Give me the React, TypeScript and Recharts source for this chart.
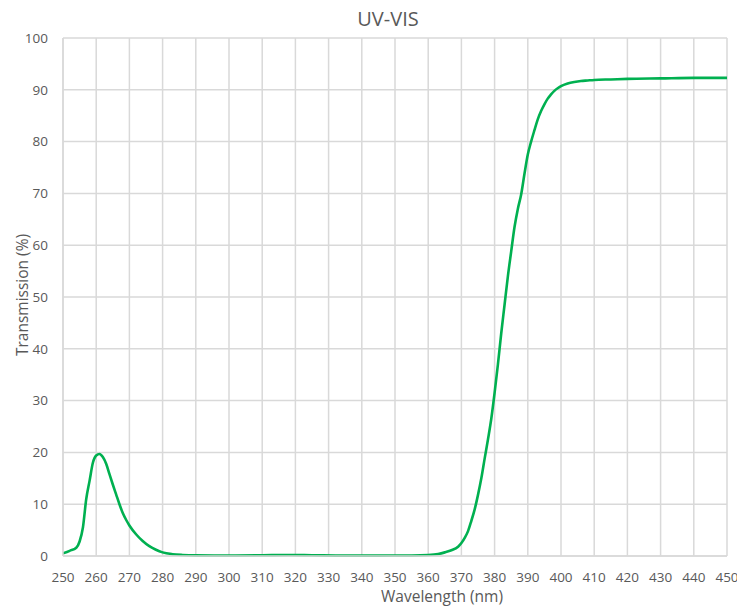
import { LineChart, Line, XAxis, YAxis, CartesianGrid } from 'recharts';

// Спектр пропускания, длина волны в нм
const wavelengths = [
  250, 252, 254, 255, 256, 257, 258, 259, 260, 261, 262, 263, 264, 265, 266, 267, 268, 269, 270,
  272, 274, 276, 278, 280, 283, 286, 290, 300, 310, 318, 325, 335, 345, 355, 360, 363, 365, 367,
  369, 370, 371, 372, 373, 374, 375, 376, 377, 378, 379, 380, 381, 382, 383, 384, 385, 386, 387,
  388, 389, 390, 391, 392, 393, 394, 395, 396, 397, 398, 399, 400, 402, 404, 406, 408, 410, 415,
  420, 430, 440, 450,
];

const transmission = [
  0.5, 1.0, 1.6, 2.8, 5.5, 11.0, 14.5, 18.0, 19.4, 19.7, 19.1, 17.8, 15.8, 13.8, 11.9, 10.0, 8.3, 7.0, 5.9,
  4.2, 2.9, 1.9, 1.2, 0.7, 0.35, 0.2, 0.12, 0.1, 0.15, 0.2, 0.15, 0.08, 0.08, 0.1, 0.2, 0.4, 0.7, 1.1,
  1.8, 2.5, 3.5, 4.8, 6.8, 9.0, 11.8, 15.0, 18.8, 22.5, 26.5, 31.5, 37.0, 43.0, 48.5, 54.0, 58.8, 63.5, 67.0,
  69.8, 73.8, 77.5, 80.0, 82.2, 84.3, 85.9, 87.2, 88.3, 89.1, 89.8, 90.3, 90.7, 91.2, 91.5, 91.7, 91.8, 91.9, 92.0,
  92.1, 92.2, 92.3, 92.3,
];

const xTicks = [250, 260, 270, 280, 290, 300, 310, 320, 330, 340, 350, 360, 370, 380, 390, 400, 410, 420, 430, 440, 450];
const yTicks = [0, 10, 20, 30, 40, 50, 60, 70, 80, 90, 100];

const data = wavelengths.map((w, i) => ({ wavelength: w, value: transmission[i] }));

const font = '"Open Sans", "Noto Sans", sans-serif';
const textColor = '#595959';
const gridColor = '#d9d9d9';

export default function App() {
  return (
    <div style={{ position: 'absolute', left: 0, top: 0, width: 737, height: 607, background: '#fff', fontFamily: font }}>
      {/* Заголовок */}
      <div
        style={{
          position: 'absolute',
          left: 288,
          top: 8,
          width: 200,
          textAlign: 'center',
          fontSize: 20,
          lineHeight: '22px',
          color: textColor,
        }}
      >
        UV-VIS
      </div>

      {/* Подпись оси Y */}
      <div
        style={{
          position: 'absolute',
          left: 22,
          top: 295,
          transform: 'translate(-50%, -50%) rotate(-90deg)',
          whiteSpace: 'nowrap',
          fontSize: 15.5,
          lineHeight: '17px',
          color: textColor,
        }}
      >
        Transmission (%)
      </div>

      {/* Подпись оси X */}
      <div
        style={{
          position: 'absolute',
          left: 342,
          top: 588,
          width: 200,
          textAlign: 'center',
          fontSize: 15.5,
          lineHeight: '17px',
          color: textColor,
        }}
      >
        Wavelength (nm)
      </div>

      <LineChart
        width={737}
        height={607}
        data={data}
        margin={{ top: 38, right: 10, left: 13, bottom: 21 }}
        style={{ position: 'absolute', left: 0, top: 0 }}
      >
        <CartesianGrid stroke={gridColor} strokeWidth={1.5} />
        <XAxis
          dataKey="wavelength"
          type="number"
          domain={[250, 450]}
          ticks={xTicks}
          interval={0}
          height={30}
          tickSize={0}
          tickMargin={16}
          axisLine={{ stroke: gridColor, strokeWidth: 1.5 }}
          tick={{ fill: textColor, fontSize: 13.5, fontFamily: font }}
          allowDataOverflow
        />
        <YAxis
          type="number"
          domain={[0, 100]}
          ticks={yTicks}
          interval={0}
          width={50}
          tickSize={0}
          tickMargin={15}
          axisLine={{ stroke: gridColor, strokeWidth: 1.5 }}
          tick={{ fill: textColor, fontSize: 13.5, fontFamily: font }}
        />
        <Line
          type="monotone"
          dataKey="value"
          stroke="#00b050"
          strokeWidth={2.6}
          dot={false}
          isAnimationActive={false}
        />
      </LineChart>
    </div>
  );
}
